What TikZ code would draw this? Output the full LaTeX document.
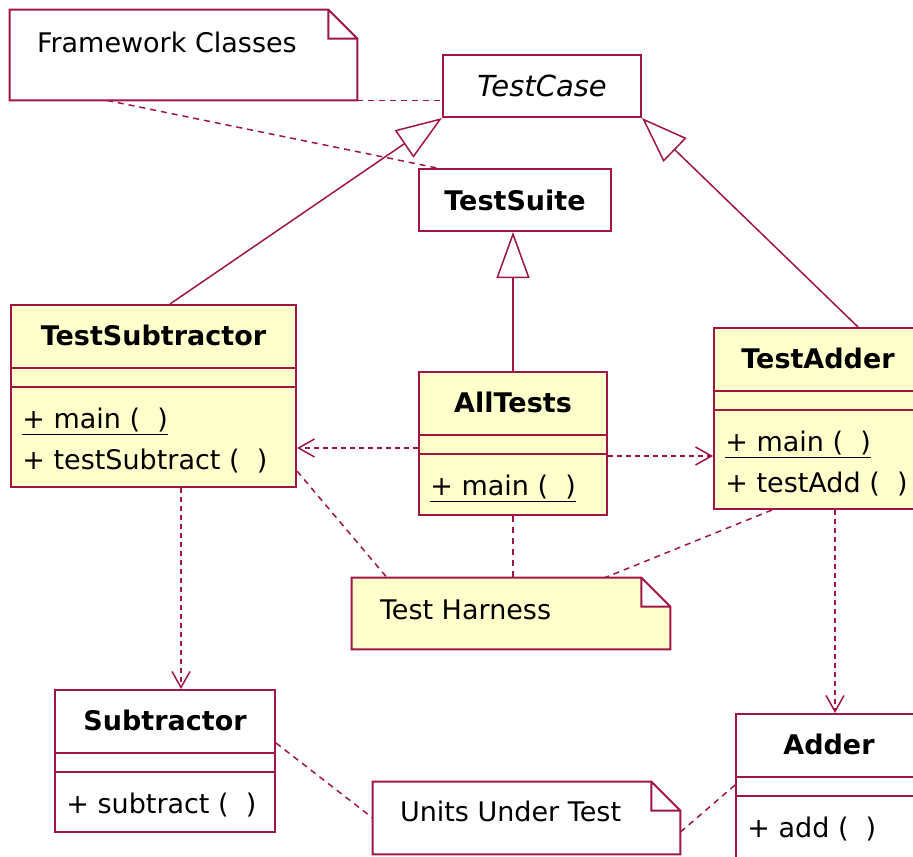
\documentclass[tikz,border=0pt]{standalone}
\usepackage{fontspec}
\setmainfont{DejaVu Sans}
\usepackage{tikz}
\usetikzlibrary{arrows.meta,backgrounds}
\definecolor{roseline}{RGB}{160,20,70}
\definecolor{rosefill}{RGB}{255,255,204}

\begin{document}
\begin{tikzpicture}[
    x=0.5pt, y=-0.5pt,
    umlclass/.style={draw=roseline, line width=1pt, fill=rosefill, inner sep=0pt},
    plainclass/.style={umlclass, fill=white, font=\fontsize{13.5}{16}\selectfont\bfseries},
    note/.style={inner sep=0pt},
    cname/.style={anchor=base, inner sep=0pt, font=\fontsize{13.5}{16}\selectfont\bfseries},
    op/.style={anchor=base west, inner sep=0pt, font=\fontsize{13.5}{16}\selectfont},
    notetext/.style={anchor=base west, inner sep=0pt, font=\fontsize{13.5}{16}\selectfont},
    link/.style={roseline, line width=0.75pt, dash pattern=on 3pt off 2.5pt},
    dep/.style={roseline, line width=0.75pt, dash pattern=on 2.5pt off 2pt, -{Straight Barb[length=8pt, width=9pt]}},
    inherit/.style={roseline, line width=0.75pt, -{Triangle[open, length=23pt, width=16.5pt]}}
]
\useasboundingbox (0,0) rectangle (913,856);
\clip (0,0) rectangle (913,856);

% framework classes
\node[plainclass, minimum width=99pt, minimum height=31pt, font=\fontsize{14.5}{16}\selectfont\itshape] (tcase) at (542,86) {TestCase};
\node[plainclass, minimum width=96pt, minimum height=31pt] (tsuite) at (515,200) {TestSuite};

% test harness
\node[umlclass, minimum width=142.5pt, minimum height=91pt] (tsub) at (153.5,396) {};
\node[cname] (tsub-name) at ([yshift=-20.5pt]tsub.north) {TestSubtractor};
\node[op] (tsub-main) at ([shift={(6pt,-62pt)}]tsub.north west) {\underline{+ main (\ \ )}};
\node[op] (tsub-test) at ([shift={(6pt,-82.5pt)}]tsub.north west) {+ testSubtract (\ \ )};

\node[umlclass, minimum width=94pt, minimum height=71.5pt] (alltests) at (513,443.5) {};
\node[cname] (alltests-name) at ([yshift=-20.5pt]alltests.north) {AllTests};
\node[op] (alltests-main) at ([shift={(6pt,-62pt)}]alltests.north west) {\underline{+ main (\ \ )}};

\node[umlclass, minimum width=108pt, minimum height=90.5pt] (tadd) at (822,418.5) {};
\node[cname] (tadd-name) at ([xshift=-2pt, yshift=-20.5pt]tadd.north) {TestAdder};
\node[op] (tadd-main) at ([shift={(6pt,-62pt)}]tadd.north west) {\underline{+ main (\ \ )}};
\node[op] (tadd-test) at ([shift={(6pt,-82.5pt)}]tadd.north west) {+ testAdd (\ \ )};

% units under test
\node[umlclass, fill=white, minimum width=110pt, minimum height=71pt] (sub) at (165,761) {};
\node[cname] (sub-name) at ([yshift=-20.5pt]sub.north) {Subtractor};
\node[op] (sub-op) at ([shift={(6pt,-62pt)}]sub.north west) {+ subtract (\ \ )};

\node[umlclass, fill=white, minimum width=97pt, minimum height=83pt] (adder) at (833,797) {};
\node[cname] (adder-name) at ([xshift=-2pt, yshift=-20.5pt]adder.north) {Adder};
\node[op] (adder-op) at ([shift={(6pt,-62pt)}]adder.north west) {+ add (\ \ )};

\foreach \c in {tsub,alltests,tadd,sub,adder}
  \draw[roseline, line width=1pt] ([yshift=-32pt]\c.north west) -- ([yshift=-32pt]\c.north east)
    ([yshift=-41.5pt]\c.north west) -- ([yshift=-41.5pt]\c.north east);

% notes
\node[note, minimum width=173.5pt, minimum height=45pt] (fw) at (183.5,55) {};
\node[notetext] (fw-text) at ([shift={(13.5pt,-21.5pt)}]fw.north west) {Framework Classes};
\node[note, minimum width=159pt, minimum height=35.5pt] (th) at (511,613.5) {};
\node[notetext] (th-text) at ([shift={(14pt,-21pt)}]th.north west) {Test Harness};
\node[note, minimum width=153.5pt, minimum height=36pt] (uut) at (526.5,818) {};
\node[notetext] (uut-text) at ([shift={(13.5pt,-20pt)}]uut.north west) {Units Under Test};

\begin{scope}[on background layer]
  \foreach \n/\c in {fw/white, th/rosefill, uut/white}
    \filldraw[draw=roseline, line width=1pt, fill=\c]
      (\n.north west) -- ([xshift=-14.5pt]\n.north east) -- ([yshift=-14.5pt]\n.north east)
      -- (\n.south east) -- (\n.south west) -- cycle
      ([xshift=-14.5pt]\n.north east) |- ([yshift=-14.5pt]\n.north east);
\end{scope}

% generalisations
\draw[inherit] (tsub.north -| 170,0) -- (tcase.south west);
\draw[inherit] (tadd.north -| 858,0) -- (tcase.south east);
\draw[inherit] (alltests.north) -- (tsuite.south -| alltests.north);

% dependencies
\draw[dep] (alltests.west |- 0,448) -- (tsub.east |- 0,448);
\draw[dep] (alltests.east |- 0,456) -- (tadd.west |- 0,456);
\draw[dep] (tsub.south -| 181,0) -- (sub.north -| 181,0);
\draw[dep] (tadd.south -| 835,0) -- (adder.north -| 835,0);

% note anchors
\draw[link] (fw.south east) -- (tcase.west |- fw.south east);
\draw[link] (fw.south -| 107,0) -- (tsuite.north -| 437,0);
\draw[link] (tsub.east |- 0,471) -- (th.north -| 387,0);
\draw[link] (alltests.south) -- (th.north -| alltests.south);
\draw[link] (tadd.south -| 772,0) -- (th.north -| 605,0);
\draw[link] (sub.east |- 0,743) -- (uut.west);
\draw[link] (uut.east |- 0,832) -- (adder.west |- 0,785);
\end{tikzpicture}
\end{document}
